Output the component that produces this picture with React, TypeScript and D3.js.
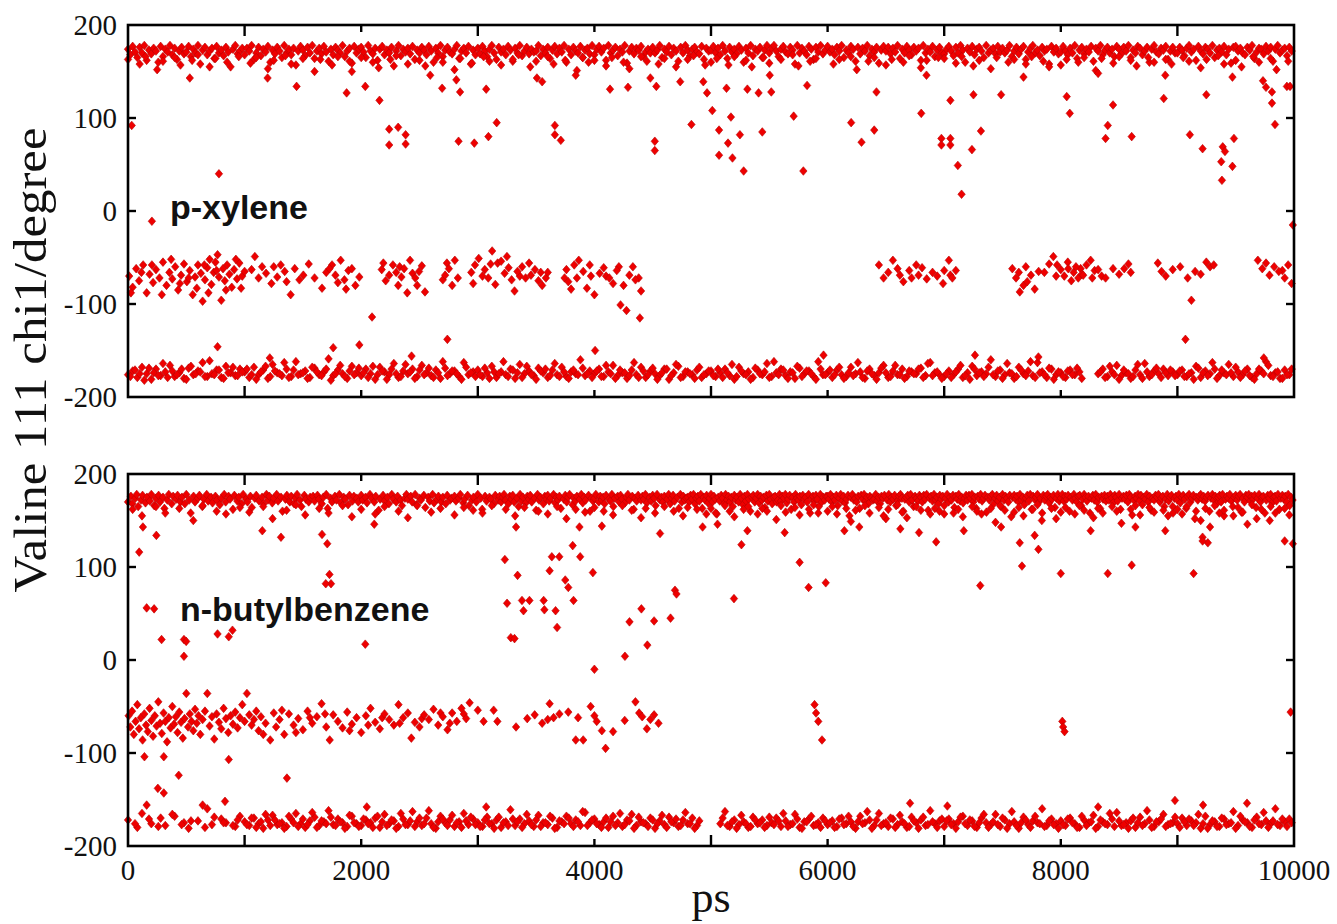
import React from 'react';
import * as d3 from 'd3';

// ---------- data ----------
const xTickLabels = [0, 2000, 4000, 6000, 8000, 10000];
const xMinorTicks = [1000, 3000, 5000, 7000, 9000];
const yTickLabels = [200, 100, 0, -100, -200];
const panelNames = ['p-xylene', 'n-butylbenzene'];

// top band (~170 deg), sampled every TOP_STEP_P1 ps
const TOP_STEP_P1 = 20;
const p1Top = [
  174,168,177,171,165,176,170,178,162,173,169,175,172,160,177,166,174,171,178,168,175,163,172,176,169,
  171,177,166,174,170,178,158,173,176,168,172,175,164,177,170,173,167,176,171,155,174,178,169,172,175,
  168,175,172,178,163,170,176,167,174,171,177,160,173,169,176,172,165,178,170,174,168,175,157,172,177,
  173,167,176,170,178,164,172,175,169,177,171,161,174,168,176,173,170,178,166,172,175,159,177,170,174,
  176,171,165,178,172,169,175,162,174,177,168,173,170,176,156,172,178,167,174,171,175,169,177,163,173,
  170,176,173,168,177,172,160,175,170,178,166,173,176,171,169,174,178,164,172,175,170,177,158,173,168,
  175,169,177,172,166,174,178,170,163,176,171,174,168,177,173,161,175,170,178,167,172,176,169,174,171,
  172,178,167,174,170,176,164,173,177,169,175,171,178,160,174,168,176,172,170,177,165,173,175,169,178,
  168,174,177,171,175,162,178,170,173,176,167,174,171,178,159,172,176,169,175,173,177,166,171,174,170,
  176,170,173,178,165,174,171,177,168,175,172,161,176,170,178,173,167,174,176,171,169,177,163,175,172,
  173,177,170,175,168,178,172,164,176,171,174,169,177,173,160,175,170,178,167,174,172,176,165,173,178,
  170,175,178,172,166,174,177,171,169,176,173,158,178,170,175,172,168,177,174,163,176,171,178,169,173,
  177,171,174,168,176,172,178,165,173,170,177,174,161,176,169,175,172,178,167,174,171,176,159,173,177,
  172,176,169,175,171,178,164,174,170,177,173,168,176,172,175,162,178,170,174,171,177,166,173,176,170,
  169,174,177,172,167,176,170,178,173,160,175,171,177,168,174,176,172,165,178,170,173,175,169,177,171,
  175,170,173,178,166,172,176,169,174,177,163,171,175,178,170,173,167,176,172,174,158,177,171,175,169,
  171,177,172,168,175,170,178,164,173,176,169,174,171,177,161,175,172,178,168,173,176,170,174,166,177,
  174,169,176,172,178,165,173,170,177,175,168,172,176,160,174,178,171,169,175,173,177,163,172,176,170,
  170,176,173,167,175,178,171,174,162,177,172,169,176,174,170,178,165,173,175,171,177,168,174,159,176,
  177,172,175,170,168,176,173,178,164,171,175,174,169,177,172,176,161,174,178,170,173,175,167,176,172,
];
// lower edge of the top band (150-168 deg), every TOP_SPILL_STEP_P1 ps
const TOP_SPILL_STEP_P1 = 50;
const p1TopSpill = [
  163,null,158,166,null,152,161,null,165,157,null,162,168,null,155,164,null,160,null,166,
  null,159,165,null,153,162,null,167,158,null,164,null,150,163,null,157,166,null,161,null,
  165,null,160,154,null,163,167,null,158,null,162,156,null,165,160,null,152,164,null,159,
  null,166,161,null,157,null,163,168,null,155,161,null,166,158,null,162,null,151,165,160,
  162,null,156,165,null,160,153,null,166,161,null,158,164,null,155,null,163,167,null,157,
  160,164,null,157,166,null,162,155,null,165,159,null,163,null,168,156,null,161,164,null,
  null,158,163,null,166,152,null,161,165,null,157,163,null,160,167,null,154,162,null,165,
  164,null,159,166,null,156,162,null,153,165,null,160,163,null,158,166,null,161,155,null,
  157,163,null,160,165,null,151,164,null,159,166,null,162,156,null,165,160,null,163,158,
  null,165,161,null,154,163,null,167,158,null,162,155,null,166,160,null,164,152,null,161,
];

const TOP_STEP_P2 = 12.5;
const p2Top = [
  170,null,176,168,null,174,178,165,null,172,177,null,169,175,null,171,178,null,166,174,null,177,170,null,175,163,null,172,178,null,168,176,
  null,173,177,null,170,175,null,168,178,null,172,158,null,176,170,null,174,177,null,165,173,null,178,171,null,175,169,null,176,172,null,167,
  174,null,178,170,null,176,173,null,162,177,null,171,175,null,168,178,null,173,170,null,176,164,null,174,177,null,171,null,175,168,null,178,
  172,176,null,169,174,null,178,171,null,175,160,null,173,177,null,170,176,null,168,174,178,null,172,165,null,177,173,null,170,175,null,176,
  171,null,177,173,null,168,175,null,178,163,null,174,170,null,176,172,null,178,169,null,175,173,null,167,177,null,171,176,null,174,170,null,
  177,172,null,175,169,null,178,174,null,170,176,null,161,173,null,177,171,null,175,168,null,178,173,null,170,176,null,172,166,null,174,178,
  173,null,176,170,null,178,167,null,174,172,null,177,164,null,175,171,null,178,169,null,173,176,null,170,175,null,168,177,null,172,174,null,
  176,171,null,174,178,null,169,173,null,177,166,null,172,175,null,170,178,null,174,162,null,176,171,null,175,173,null,168,177,null,172,176,
  170,175,178,172,null,168,176,173,177,170,null,174,165,178,171,175,null,169,176,173,177,170,null,174,161,178,172,175,null,168,176,173,
  177,171,174,null,178,169,175,172,176,163,null,173,177,170,175,178,null,167,174,171,176,null,173,178,169,175,172,null,177,160,174,171,
  174,178,null,170,176,172,175,168,177,null,173,171,178,165,174,null,176,170,177,173,null,169,175,178,172,null,176,162,174,171,177,null,
  172,176,173,178,169,null,175,171,177,174,166,178,null,172,175,170,176,null,173,178,168,174,177,171,null,175,163,178,170,176,172,174,
  175,170,177,173,178,168,174,176,171,178,163,175,172,177,169,174,178,170,176,173,157,175,171,177,174,168,178,172,176,170,175,165,
  177,172,175,170,178,174,167,176,171,178,173,160,175,177,170,174,178,169,176,172,175,164,177,171,178,173,168,175,176,170,172,178,
  171,176,174,178,169,173,177,162,175,170,178,174,172,176,167,177,173,175,170,178,158,174,176,171,177,173,165,178,170,175,172,176,
  176,173,178,170,175,172,177,166,174,178,171,176,169,173,177,155,175,178,172,174,170,176,163,177,173,178,171,175,168,176,174,172,
  173,178,171,175,168,176,174,177,152,172,178,170,175,173,177,166,171,176,178,174,160,173,175,177,170,178,172,165,176,174,171,177,
  175,170,177,173,178,161,174,176,171,178,172,175,168,177,173,176,157,174,178,170,175,172,177,164,176,173,178,171,175,169,174,177,
  172,177,174,178,170,175,163,176,173,178,171,174,177,159,175,172,176,178,168,174,177,171,175,165,178,172,176,174,170,177,154,175,
  177,173,176,170,178,172,175,167,174,177,171,178,162,176,173,175,178,170,174,150,177,172,176,178,169,175,173,177,164,174,178,171,
  174,178,171,176,173,177,160,175,172,178,174,170,176,177,166,173,178,175,171,176,158,174,177,172,178,170,175,163,176,173,177,171,
  176,172,178,174,169,177,175,171,178,162,174,176,173,177,170,178,175,156,172,176,174,178,171,177,167,175,173,178,170,176,161,174,
  172,177,175,178,170,174,176,165,173,178,171,175,177,158,174,176,172,178,169,175,177,173,163,176,178,170,174,177,152,175,172,176,
  178,173,176,171,175,177,160,174,178,172,176,168,175,177,170,178,155,173,176,174,178,171,165,175,177,172,176,178,159,174,170,177,
  175,178,171,176,173,177,164,174,178,170,175,176,158,172,177,174,178,169,175,176,171,178,162,174,177,173,176,170,178,166,175,172,
];
const TOP_SPILL_STEP_P2 = 40;
const p2TopSpill = [
  null,162,null,155,null,null,165,null,158,null,null,163,null,null,150,null,166,null,null,160,null,157,null,null,164,
  null,159,null,null,165,null,152,null,null,161,null,167,null,156,null,null,163,null,158,null,null,166,null,154,null,
  162,null,null,157,null,165,null,null,160,null,153,null,166,null,null,159,null,163,null,null,156,null,164,null,161,
  null,158,null,166,null,null,162,null,155,null,164,null,null,160,null,157,null,165,null,152,null,162,null,159,null,
  164,null,160,null,156,null,166,null,161,null,153,163,null,158,null,165,null,160,null,155,164,null,162,null,157,
  163,158,null,166,160,154,null,162,165,null,157,163,160,null,151,166,159,null,164,156,null,162,167,158,null,
  160,165,157,null,163,149,161,null,166,158,null,164,155,162,null,167,159,153,null,165,161,null,157,163,160,
  166,null,158,162,154,null,165,160,157,null,163,148,166,161,null,159,164,155,null,162,167,158,null,163,152,
  159,164,null,157,166,161,null,153,163,158,null,165,160,147,null,162,166,156,null,164,159,null,161,155,165,
  162,157,165,null,160,150,163,null,166,158,161,null,155,164,159,null,167,152,162,null,165,158,null,163,156,
];

// bottom band (~-175 deg): two interleaved samplings, every BOTTOM_STEP ps
const BOTTOM_STEP = 40;
const BOTTOM2_START = 20;
const p1Bottom = [
  -176,-172,-179,-168,-175,-181,-170,-177,-173,-166,-178,-174,-180,-169,-176,-172,-163,-178,-175,-171,-179,-167,-174,-177,-170,
  -173,-179,-168,-176,-171,-180,-165,-174,-177,-170,-178,-162,-175,-172,-179,-169,-176,-173,-159,-177,-171,-175,-180,-167,-174,
  -177,-170,-175,-181,-168,-173,-176,-164,-179,-172,-175,-170,-178,-166,-174,-177,-171,-180,-169,-175,-172,-178,-163,-176,-173,
  -171,-178,-174,-167,-179,-173,-176,-170,-180,-165,-175,-172,-177,-169,-174,-179,-171,-176,-168,-178,-173,-175,-160,-177,-172,
  -175,-170,-178,-173,-166,-177,-174,-180,-171,-176,-168,-179,-172,-175,-177,-170,-181,-174,-167,-178,-173,-176,-171,-179,-175,
  -172,-178,-174,-170,-177,-181,-168,-175,-173,-179,-171,-176,-164,-178,-174,-170,-177,-173,-180,-169,-175,-172,-178,-162,-176,
  -174,-179,-171,-176,-178,-168,-175,-173,-180,-170,-177,-174,-166,-179,-172,-176,-170,-178,-173,-175,-169,-177,-163,-174,-176,
  -178,-172,-176,-170,-179,-174,-167,-177,-173,-175,-160,-178,-171,-176,-174,-180,-168,-175,-172,-177,-163,-173,-179,-170,-176,
  -174,-179,-171,-176,-173,null,null,null,-175,-170,-178,-173,-166,-177,-174,-180,-171,-176,-164,-178,-172,-175,-170,-177,-173,
  -176,-171,-178,-174,-167,-179,-172,-175,-170,-177,-174,-165,-178,-173,-176,-170,-179,-175,-172,-162,-177,-174,-180,-171,-176,
];
const p1Bottom2 = [
  -178,-171,-175,-182,-169,-174,-177,-164,-179,-172,-176,-170,-181,-167,-175,-173,-178,-161,-176,-171,-180,-174,-168,-177,-173,
  -170,-176,-181,-173,-167,-178,-172,-175,-163,-179,-171,-176,-174,-180,-168,-173,-177,-170,-182,-175,-166,-178,-172,-176,-169,
  -174,-179,-167,-176,-172,-181,-170,-175,-178,-165,-173,-180,-171,-176,-169,-179,-174,-162,-177,-172,-175,-181,-168,-174,-178,
  -176,-169,-180,-173,-175,-162,-178,-171,-174,-179,-167,-176,-181,-172,-170,-177,-164,-178,-173,-180,-171,-176,-169,-175,-179,
  -172,-178,-166,-175,-180,-171,-174,-177,-163,-179,-172,-176,-169,-181,-174,-170,-177,-165,-179,-173,-175,-180,-168,-176,-172,
  -177,-170,-179,-174,-165,-178,-172,-176,-181,-169,-175,-173,-179,-162,-176,-171,-180,-174,-167,-178,-172,-175,-181,-170,-176,
  -171,-176,-168,-180,-174,-177,-163,-179,-172,-175,-181,-169,-174,-178,-166,-176,-180,-172,-175,-170,-179,-164,-177,-173,-180,
  -175,-179,-173,-166,-177,-181,-170,-174,-178,-168,-176,-172,-180,-164,-175,-178,-171,-177,-162,-179,-174,-176,-169,-181,-173,
  -178,-172,-176,-169,-180,null,null,null,-173,-179,-167,-176,-181,-171,-175,-178,-165,-180,-173,-176,-169,-179,-174,-171,-177,
  -172,-178,-175,-181,-169,-174,-177,-163,-180,-171,-176,-174,-168,-179,-172,-177,-181,-170,-175,-166,-178,-173,-180,-176,-170,
];
const p2Bottom = [
  -172,null,-180,-165,null,-176,null,-170,-178,null,-168,null,-175,-181,null,-173,null,-160,-177,null,-171,-175,null,-179,-168,
  -174,-178,-170,-176,-181,-172,-167,-177,-175,-179,-171,-165,-176,-180,-173,-169,-178,-174,-162,-177,-171,-175,-179,-168,-176,
  -178,-172,-175,-170,-180,-166,-176,-173,-179,-171,-177,-163,-174,-178,-170,-176,-181,-168,-175,-172,-179,-174,-165,-177,-171,
  -175,-179,-169,-176,-172,-180,-174,-161,-178,-171,-176,-173,-179,-167,-175,-177,-170,-180,-174,-168,-176,-172,-178,-164,-175,
  -171,-177,-174,-180,-168,-175,-179,-172,-166,-178,-174,-176,-170,-181,-173,-177,-169,-175,-179,-172,-176,-170,-178,null,null,
  null,null,-176,-163,-179,-172,-177,-174,-180,-169,-176,-172,-178,-175,-170,-179,-173,-177,-166,-180,-174,-171,-178,-175,-170,
  -177,-173,-179,-170,-176,-174,-181,-168,-175,-172,-178,-165,-176,-179,-171,-177,-174,-180,-169,-175,-172,-178,-162,-176,-173,
  -179,-171,-176,-174,-168,-178,-173,-180,-170,-175,-177,-166,-179,-172,-176,-174,-181,-169,-177,-173,-175,-160,-178,-171,-176,
  -173,-178,-170,-176,-180,-172,-175,-167,-179,-174,-177,-171,-164,-178,-175,-173,-180,-169,-176,-172,-179,-174,-166,-177,-175,
  -176,-170,-178,-173,-175,-181,-168,-177,-174,-179,-171,-176,-163,-178,-172,-175,-180,-169,-177,-173,-176,-160,-178,-174,-171,
];
const p2Bottom2 = [
  null,-176,null,null,-171,null,-179,null,null,-166,null,-177,null,-173,null,null,-180,null,-169,null,-175,null,-178,-172,null,
  -177,-170,-180,-174,-166,-178,-172,-176,-181,-168,-175,-179,-171,-177,-164,-180,-173,-176,-169,-178,-174,-181,-167,-175,-179,
  -171,-176,-180,-168,-174,-178,-172,-181,-165,-177,-173,-179,-170,-176,-162,-180,-174,-171,-178,-167,-175,-180,-173,-169,-177,
  -179,-172,-176,-181,-169,-175,-178,-171,-174,-180,-166,-177,-172,-179,-175,-168,-181,-173,-176,-170,-179,-174,-163,-178,-172,
  -176,-180,-170,-174,-178,-165,-177,-173,-181,-169,-175,-179,-172,-176,-167,-180,-174,-171,-178,-164,-176,-181,-173,null,null,
  null,null,-170,-178,-174,-181,-167,-176,-179,-172,-175,-180,-169,-177,-173,-165,-179,-176,-171,-181,-174,-168,-177,-180,-173,
  -175,-180,-171,-177,-168,-179,-174,-176,-163,-181,-172,-178,-175,-170,-180,-167,-176,-179,-173,-181,-169,-177,-174,-180,-171,
  -173,-177,-181,-169,-176,-172,-179,-175,-166,-180,-174,-177,-170,-181,-163,-178,-175,-172,-180,-168,-176,-179,-173,-177,-181,
  -177,-171,-175,-180,-168,-178,-174,-181,-172,-176,-165,-179,-173,-177,-181,-170,-175,-178,-162,-180,-174,-171,-179,-176,-169,
  -180,-174,-171,-178,-166,-176,-181,-173,-179,-170,-177,-175,-181,-168,-174,-179,-172,-176,-164,-180,-173,-177,-171,-179,-175,
];

// middle band (~-70 deg), [ps, deg]
const p1Mid = [
  [10,-70],[40,-82],[70,-62],[95,-75],[130,-58],[160,-88],[185,-68],[215,-77],[240,-63],[270,-72],[300,-55],[330,-80],[355,-66],[380,-73],[405,-60],[430,-85],[455,-69],[480,-57],[505,-76],[530,-64],[555,-90],[575,-71],[600,-58],[625,-67],[640,-97],[660,-74],[680,-61],[700,-52],[715,-79],[735,-66],[750,-55],[768,-47],[780,-71],[800,-96],[815,-62],[830,-75],[850,-58],[870,-68],[890,-82],[910,-63],[935,-73],[955,-56],[980,-70],[1000,-65],
  [25,-88],[115,-66],[205,-58],[290,-90],[370,-52],[445,-78],[520,-72],[590,-83],[655,-58],[690,-88],[760,-64],[840,-85],[925,-52],[970,-83],[1060,-63],[1250,-60],[1360,-76],[1600,-72],[1750,-58],[1870,-84],[2190,-56],[2330,-60],[2480,-80],[2735,-56],[2960,-78],[3090,-72],[3110,-57],[3250,-49],[3360,-70],[3440,-56],[3540,-66],[3760,-63],[3850,-72],[3960,-58],[4100,-70],[4210,-60],[4330,-60],[4380,-72],
  [1088,-49],[1120,-72],[1150,-60],[1184,-67],[1230,-78],[1280,-71],[1310,-58],[1344,-65],[1395,-90],[1430,-62],[1470,-74],[1504,-69],[1550,-57],
  [1664,-83],[1700,-66],[1728,-62],[1779,-69],[1800,-77],[1824,-53],[1856,-74],[1890,-64],[1920,-62],[1950,-80],[1984,-71],
  [2176,-63],[2210,-75],[2240,-69],[2272,-58],[2300,-66],[2317,-80],[2345,-71],[2368,-62],[2395,-88],[2419,-53],[2440,-67],[2464,-72],[2496,-65],[2520,-59],[2547,-87],
  [2700,-74],[2720,-69],[2752,-62],[2780,-80],[2803,-53],[2829,-72],
  [2944,-66],[2976,-58],[3008,-51],[3040,-70],[3060,-63],[3123,-43],[3150,-79],[3170,-56],[3200,-54],[3230,-67],[3264,-61],[3290,-74],[3315,-86],[3340,-65],[3380,-60],[3410,-72],[3456,-69],[3490,-63],[3520,-75],[3552,-80],[3584,-72],[3600,-66],
  [3744,-72],[3776,-76],[3800,-84],[3827,-58],[3866,-53],[3904,-65],[3936,-83],[3970,-70],[4000,-90],[4045,-67],[4080,-61],[4128,-72],[4160,-78],[4192,-64],[4250,-80],[4300,-69],[4352,-74],[4400,-86],
  [6440,-58],[6480,-72],[6560,-53],[6600,-62],[6620,-69],[6650,-76],[6700,-64],[6720,-72],[6780,-69],[6810,-61],[6850,-73],[6900,-66],[6940,-70],[6990,-78],[7040,-53],[7053,-69],[7070,-72],[7100,-64],
  [6520,-66],[6760,-58],[7000,-64],[7640,-66],[7700,-60],[7960,-70],[8060,-55],[8170,-62],[8270,-72],[8500,-68],[8580,-57],[8960,-63],[9200,-68],[9760,-56],[9900,-64],
  [7584,-62],[7616,-72],[7648,-87],[7680,-80],[7712,-76],[7744,-69],[7776,-84],[7810,-65],[7859,-66],[7900,-57],[7936,-49],[7968,-58],[8000,-63],[8030,-70],[8064,-62],[8090,-75],[8110,-66],[8130,-60],[8150,-72],[8180,-68],[8192,-69],[8220,-58],[8256,-53],[8290,-64],[8320,-63],[8350,-70],[8384,-72],[8448,-62],[8544,-62],[8600,-66],[8832,-56],[8864,-65],[8900,-70],[9024,-60],[9088,-72],[9152,-65],[9248,-55],[9280,-60],[9312,-58],
  [9690,-53],[9728,-62],[9790,-69],[9830,-60],[9870,-65],[9920,-72],[9950,-58],[9980,-78],
];
const p2Mid = [
  [5,-60],[20,-72],[35,-55],[50,-80],[65,-66],[80,-48],[95,-74],[110,-62],[125,-86],[140,-58],[155,-70],[170,-77],[185,-52],[200,-65],[215,-82],[230,-60],[245,-71],[260,-45],[275,-68],[290,-79],[305,-57],[320,-66],[335,-88],[350,-62],[365,-73],[380,-50],[395,-69],[410,-61],[425,-78],[440,-56],[455,-67],[470,-84],[485,-63],[500,-36],[515,-72],[530,-58],[545,-66],[560,-76],[575,-53],[590,-68],[605,-60],[620,-80],[640,-64],[660,-55],[680,-36],[700,-71],[720,-61],[740,-85],[760,-58],[780,-67],[800,-74],[820,-52],[840,-63],[860,-78],[880,-60],[900,-69],[920,-56],[940,-73],[960,-62],[980,-48],[1000,-66],[1020,-36],[1040,-59],[1060,-70],[1080,-64],[1100,-55],[1120,-76],[1140,-61],[1180,-68],[1220,-86],[1250,-57],
  [1160,-80],[1270,-72],[1320,-54],[1440,-78],[1560,-62],[1690,-58],[1900,-76],[2060,-70],[2180,-62],[2330,-68],[2520,-63],[2680,-57],[2760,-68],[2880,-58],[3000,-54],[3050,-66],[3600,-64],[3700,-58],[4260,-65],[4450,-74],
  [1300,-64],[1340,-80],[1380,-58],[1420,-70],[1460,-63],[1500,-75],[1540,-55],[1580,-68],[1620,-61],[1660,-47],[1700,-72],[1730,-86],[1760,-59],[1800,-66],[1840,-73],[1880,-56],[1920,-69],[1960,-62],[2000,-78],[2040,-60],[2080,-52],[2120,-67],[2160,-74],[2200,-58],[2240,-64],[2280,-70],[2320,-48],[2360,-62],[2400,-57],[2430,-84],[2460,-67],[2500,-72],[2540,-59],[2580,-64],[2620,-53],[2660,-70],[2700,-61],[2740,-75],[2780,-57],[2820,-66],[2860,-52],[2900,-63],[2930,-46],
  [3136,-54],[3168,-66],[3328,-72],[3424,-63],[3488,-59],[3552,-68],[3616,-47],[3650,-62],[3776,-56],[3840,-86],[3860,-62],[3904,-86],[3968,-50],[4000,-60],[4020,-66],[4064,-76],[4096,-95],[4160,-77],[4352,-45],[4384,-57],[4410,-61],[4480,-64],[4512,-59],[4550,-68],
  [5888,-48],[5901,-57],[5920,-66],[5952,-86],[8013,-66],[8020,-72],[8032,-77],[9971,-56],
];

// scattered / transition points, [ps, deg]
const p1Scatter = [
  [32,92],[530,143],[780,40],[1197,143],[1446,134],[1875,127],[2035,134],[2157,119],[2240,88],[2240,71],[2317,90],[2381,82],[2381,72],[2694,132],[2816,141],[2848,128],[2835,75],[2970,73],[3072,131],[3091,80],[3162,95],[3507,143],[3552,139],[3661,92],[3661,82],[3712,76],[4134,131],[4288,133],[4518,75],[4518,65],[4531,134],[4736,139],[4832,93],[4934,139],[4966,127],[5011,108],[5069,87],[5069,60],[5133,132],[5146,73],[5171,101],[5184,57],[5248,82],[5280,43],[5312,131],[5408,127],[5440,85],[5517,128],[5709,102],[5792,43],[5824,135],[6202,95],[6291,74],[6400,87],[6419,128],[6803,105],[6976,78],[6976,71],[7053,78],[7053,71],[7053,119],[7117,49],[7149,18],[7238,66],[7251,125],[7315,86],[7488,125],[8051,123],[8077,105],[8384,78],[8403,92],[8448,114],[8608,80],[8883,121],[9107,82],[9216,67],[9248,125],[9389,69],[9408,64],[9376,53],[9472,48],[9382,33],[9485,78],[9760,133],[9811,128],[9837,93],[9939,134],[9990,-15],[205,-11],[9966,134],
  [1920,150],[2592,146],[3840,146],[4480,143],[5504,146],[6848,146],[7680,144],[8320,148],[8896,146],[9472,144],[9734,140],[9811,116],
  [2093,-114],[4224,-101],[4275,-107],[4390,-115],[768,-146],[1760,-147],[1984,-144],[2739,-138],[4006,-150],[9069,-138],[9120,-96],[5965,-155],[7264,-155],[1216,-158],[7808,-157],[2432,-156],[9741,-158],
];
const p2Scatter = [
  [96,116],[128,143],[243,134],[160,56],[224,55],[288,22],[480,22],[499,20],[480,4],[768,28],[864,25],[896,32],[1152,139],[1312,132],[1664,135],[1709,125],[1728,92],[1741,82],[1696,82],[2035,17],[3232,108],[3341,91],[3251,61],[3283,24],[3315,23],[3379,64],[3443,64],[3392,53],[3565,64],[3571,54],[3616,96],[3635,111],[3699,111],[3667,53],[3680,35],[3750,86],[3776,78],[3814,123],[3821,64],[3878,111],[3987,94],[4000,-10],[4262,4],[4301,41],[4403,55],[4454,16],[4512,42],[4653,45],[4691,75],[4704,71],[4563,136],[5197,66],[5261,124],[5760,105],[5837,78],[5984,83],[6931,127],[7309,80],[7648,126],[7667,101],[7776,134],[7808,119],[8000,93],[8403,93],[8608,102],[9139,93],[9216,132],[9261,126],[9920,128],[9990,125],
  [2112,146],[3328,143],[3872,143],[4064,144],[4928,143],[5056,146],[5312,139],[5632,137],[6144,139],[6272,143],[6624,141],[6784,137],[7168,139],[7488,143],[8256,139],[8640,143],[8896,139],[9280,143],[9600,146],[9792,150],[9216,128],
  [141,-104],[307,-104],[864,-107],[435,-124],[256,-138],[307,-143],[1363,-127],[160,-156],[832,-152],[640,-156],[8979,-151],[9220,-156],[9597,-154],[6707,-154],[7027,-157],[8320,-158],[3072,-158],[2048,-158],
];

// ---------- layout ----------
const W = 1337, H = 924;
const LEFT = 128, RIGHT = 1294;
const panels = [
  { top: 25, bottom: 397, name: panelNames[0], labelX: 170, labelY: 219,
    bands: [[p1Top, 0, TOP_STEP_P1], [p1TopSpill, 0, TOP_SPILL_STEP_P1], [p1Bottom, 0, BOTTOM_STEP], [p1Bottom2, BOTTOM2_START, BOTTOM_STEP]],
    mid: p1Mid, scatter: p1Scatter },
  { top: 474, bottom: 846, name: panelNames[1], labelX: 180, labelY: 621,
    bands: [[p2Top, 0, TOP_STEP_P2], [p2TopSpill, 0, TOP_SPILL_STEP_P2], [p2Bottom, 0, BOTTOM_STEP], [p2Bottom2, BOTTOM2_START, BOTTOM_STEP]],
    mid: p2Mid, scatter: p2Scatter },
];

const series = (ys: (number | null)[], start: number, step: number) =>
  ys.map((y, i) => (y == null ? null : [start + i * step, y])).filter(Boolean) as number[][];

const diamond = 'M0,-4.3L3.7,0L0,4.3L-3.7,0Z';
const serif = "'Liberation Serif','Times New Roman',serif";
const sans = "'Liberation Sans',Arial,sans-serif";

function Panel({ p, showX }: any) {
  const x = d3.scaleLinear().domain([0, 10000]).range([LEFT, RIGHT]);
  const y = d3.scaleLinear().domain([-200, 200]).range([p.bottom, p.top]);
  const pts = [
    ...p.bands.flatMap((b: any) => series(b[0], b[1], b[2])),
    ...p.mid,
    ...p.scatter,
  ];
  return (
    <g>
      <g>
        {pts.map((d: number[], i: number) => (
          <path key={i} d={diamond} transform={`translate(${x(d[0])},${y(d[1])})`} fill="#ee0000" stroke="#b80000" strokeWidth={0.6} />
        ))}
      </g>
      <rect x={LEFT} y={p.top} width={RIGHT - LEFT} height={p.bottom - p.top} fill="none" stroke="#000" strokeWidth={2.6} />
      {[...xTickLabels, ...xMinorTicks].filter(v => v > 0 && v < 10000).map(v => {
        const len = xMinorTicks.includes(v) ? 11 : 7;
        return (
          <g key={v}>
            <line x1={x(v)} x2={x(v)} y1={p.bottom} y2={p.bottom - len} stroke="#000" strokeWidth={2.4} />
            <line x1={x(v)} x2={x(v)} y1={p.top} y2={p.top + len} stroke="#000" strokeWidth={2.4} />
          </g>
        );
      })}
      {yTickLabels.filter(v => v > -200 && v < 200).map(v => (
        <g key={v}>
          <line x1={LEFT} x2={LEFT + 8} y1={y(v)} y2={y(v)} stroke="#000" strokeWidth={2.4} />
          <line x1={RIGHT} x2={RIGHT - 8} y1={y(v)} y2={y(v)} stroke="#000" strokeWidth={2.4} />
        </g>
      ))}
      {yTickLabels.map(v => (
        <text key={v} x={117} y={y(v)} dy="0.35em" textAnchor="end" fontFamily={serif} fontSize={29} fill="#111">{v}</text>
      ))}
      {showX && xTickLabels.map(v => (
        <text key={v} x={x(v)} y={880} textAnchor="middle" fontFamily={serif} fontSize={29} fill="#111">{v}</text>
      ))}
      <text x={p.labelX} y={p.labelY} fontFamily={sans} fontWeight="bold" fontSize={34} fill="#111">{p.name}</text>
    </g>
  );
}

export default function App() {
  return (
    <div style={{ position: 'absolute', left: 0, top: 0, width: W, height: H, background: '#fff' }}>
      <svg width={W} height={H} viewBox={`0 0 ${W} ${H}`}>
        <rect width={W} height={H} fill="#fff" />
        {panels.map((p, i) => <Panel key={i} p={p} showX={i === 1} />)}
        <text x={711} y={912} textAnchor="middle" fontFamily={serif} fontSize={44} fill="#111">ps</text>
        <text transform="translate(46,360) rotate(-90)" textAnchor="middle" fontFamily={serif} fontSize={46} fill="#111" textLength={465} lengthAdjust="spacingAndGlyphs">Valine 111 chi1/degree</text>
      </svg>
    </div>
  );
}
